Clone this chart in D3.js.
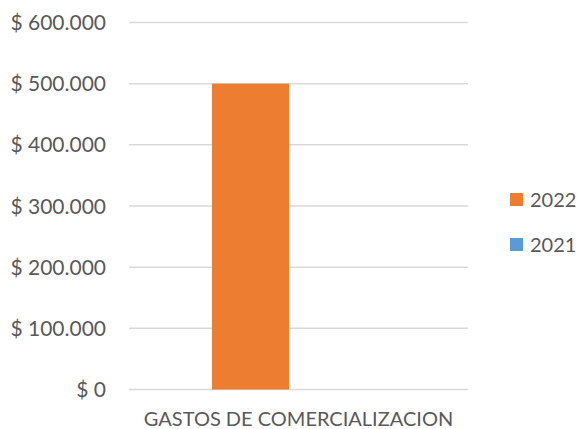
<!DOCTYPE html>
<html>
    <head>
        <title>Gastos de comercializacion</title>
        <style>
            body { margin: 0; background: #fff; overflow: hidden; }
            svg { display: block; }
            text { font-family: Lato, "Open Sans", sans-serif; fill: #595959; }
        </style>
    </head>
    <body>
        <svg></svg>
        <script src="https://d3js.org/d3.v7.min.js"></script>
        <script>
            // data
            var categories = ["GASTOS DE COMERCIALIZACION"];
            var seriesNames = ["2022", "2021"];
            var values2022 = [500000];
            var values2021 = [0];
            var yTicks = [0, 100000, 200000, 300000, 400000, 500000, 600000];
            var colors = ["#ED7D31", "#5B9BD5"];

            var svg = d3.select("svg")
                .attr("width", 578)
                .attr("height", 429);

            var plotLeft = 129, plotRight = 468, plotTop = 22.5, plotBottom = 389.5;

            var y = d3.scaleLinear().domain([0, 600000]).range([plotBottom, plotTop]);
            var x0 = d3.scaleBand().domain(categories).range([plotLeft, plotRight]);
            // bars inside each category
            var x1 = d3.scaleBand().domain(seriesNames).range([83, 237]);

            // formatting like "$ 600.000"
            function fmt(v) {
                return "$ " + d3.format(",")(v).replace(/,/g, ".");
            }

            // gridlines
            svg.selectAll("line.grid")
                .data(yTicks).enter().append("line")
                .attr("class", "grid")
                .attr("x1", plotLeft).attr("x2", plotRight)
                .attr("y1", function(d) { return y(d); })
                .attr("y2", function(d) { return y(d); })
                .attr("stroke", "#D9D9D9")
                .attr("stroke-width", 1.5);

            // y labels
            svg.selectAll("text.ylab")
                .data(yTicks).enter().append("text")
                .attr("class", "ylab")
                .attr("x", 106)
                .attr("y", function(d) { return y(d) + 7.5; })
                .attr("text-anchor", "end")
                .attr("font-size", 21)
                .text(fmt);

            // bars
            var rows = categories.map(function(c, i) {
                return [{s: "2022", v: values2022[i], c: c}, {s: "2021", v: values2021[i], c: c}];
            });
            var g = svg.selectAll("g.cat")
                .data(rows).enter().append("g")
                .attr("transform", function(d) { return "translate(" + x0(d[0].c) + ",0)"; });
            g.selectAll("rect")
                .data(function(d) { return d; }).enter().append("rect")
                .attr("x", function(d) { return x1(d.s); })
                .attr("width", x1.bandwidth())
                .attr("y", function(d) { return y(d.v); })
                .attr("height", function(d) { return plotBottom - y(d.v); })
                .attr("fill", function(d, i) { return colors[i]; });

            // category label
            svg.selectAll("text.xlab")
                .data(categories).enter().append("text")
                .attr("class", "xlab")
                .attr("x", function(d) { return x0(d) + x0.bandwidth() / 2; })
                .attr("y", 426)
                .attr("text-anchor", "middle")
                .attr("font-size", 20)
                .text(function(d) { return d; });

            // legend
            var leg = svg.selectAll("g.leg")
                .data(seriesNames).enter().append("g")
                .attr("transform", function(d, i) { return "translate(510," + (193 + i * 45) + ")"; });
            leg.append("rect")
                .attr("width", 13).attr("height", 13)
                .attr("fill", function(d, i) { return colors[i]; });
            leg.append("text")
                .attr("x", 20).attr("y", 14)
                .attr("font-size", 20)
                .text(function(d) { return d; });
        </script>
    </body>
</html>
